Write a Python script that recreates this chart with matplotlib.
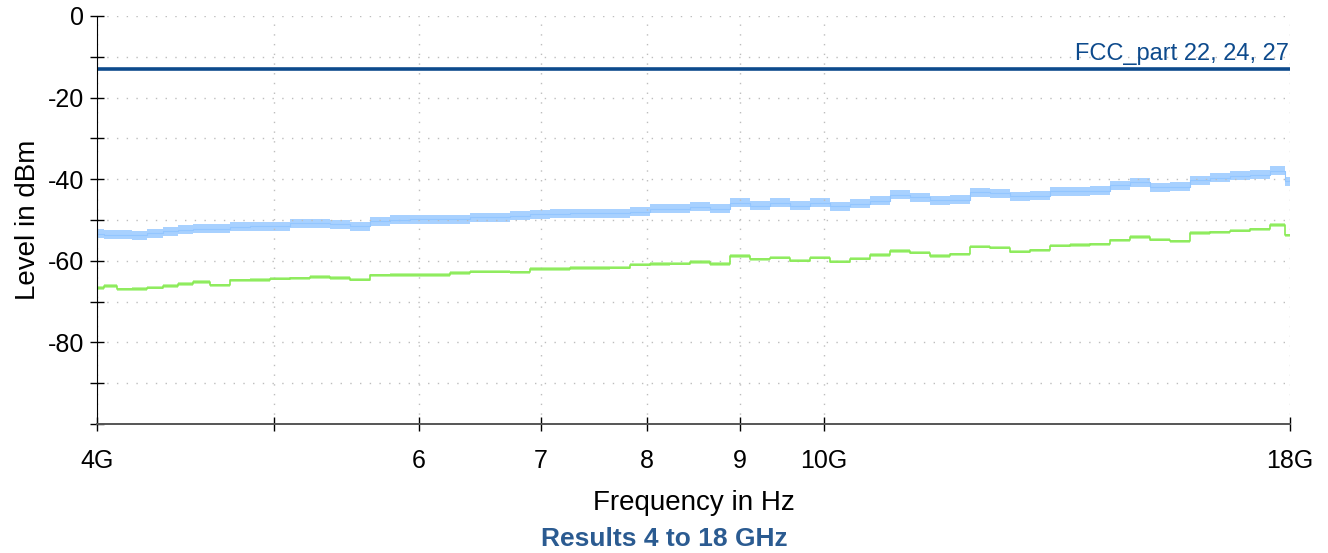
import matplotlib.pyplot as plt
import numpy as np

plt.rcParams['font.family'] = ['Liberation Sans', 'DejaVu Sans']

# sweep frequencies in GHz
freq_ghz = [4.00, 4.07, 4.14, 4.22, 4.30, 4.39, 4.47, 4.56, 4.67, 4.79,
            4.91, 5.04, 5.17, 5.30, 5.43, 5.57, 5.72, 5.86, 6.01, 6.16,
            6.32, 6.48, 6.65, 6.82, 6.99, 7.17, 7.35, 7.54, 7.73, 7.93,
            8.13, 8.34, 8.55, 8.77, 9.00, 9.23, 9.46, 9.70, 9.95, 10.20,
            10.47, 10.73, 11.00, 11.29, 11.58, 11.87, 12.17, 12.49, 12.80, 13.13,
            13.47, 13.81, 14.16, 14.52, 14.89, 15.28, 15.67, 16.06, 16.48, 16.90,
            17.33, 17.77, 18.00]

# peak trace (light blue), dBm
peak_dbm = [-53.4, -53.6, -53.6, -53.8, -53.3, -52.8, -52.4, -52.2, -52.2, -51.6,
            -51.5, -51.5, -50.8, -50.8, -51.0, -51.5, -50.3, -50.0, -49.8, -49.8,
            -49.8, -49.3, -49.3, -49.0, -48.6, -48.5, -48.4, -48.3, -48.4, -48.0,
            -47.3, -47.2, -46.8, -47.3, -45.8, -46.5, -45.8, -46.5, -45.8, -46.6,
            -46.0, -45.3, -43.8, -44.4, -45.2, -45.0, -43.2, -43.4, -44.2, -44.0,
            -43.0, -42.9, -42.8, -41.5, -40.8, -42.0, -41.8, -40.3, -39.6, -39.2,
            -38.9, -37.9, -40.5]

# average trace (green), dBm
avg_dbm = [-66.7, -66.2, -67.0, -66.9, -66.6, -66.2, -65.7, -65.2, -66.0, -64.8,
           -64.7, -64.4, -64.3, -64.0, -64.2, -64.6, -63.6, -63.5, -63.5, -63.5,
           -63.0, -62.7, -62.7, -62.8, -62.0, -62.0, -61.8, -61.8, -61.7, -61.0,
           -60.8, -60.7, -60.3, -60.8, -58.8, -59.6, -59.2, -60.0, -59.2, -60.2,
           -59.5, -58.6, -57.6, -58.0, -58.8, -58.4, -56.5, -56.8, -57.8, -57.4,
           -56.3, -56.1, -56.0, -55.0, -54.2, -54.8, -55.2, -53.2, -53.0, -52.6,
           -52.3, -51.2, -53.8]

# trace spread (dB, peak to peak)
peak_spread = 2.2
avg_spread = 0.8

limit_dbm = -13.0
limit_name = 'FCC_part 22, 24, 27'

xticks = [4, 5, 6, 7, 8, 9, 10, 18]
xticklabels = ['4G', '', '6', '7', '8', '9', '10G', '18G']

f = np.array(freq_ghz)
pk = np.array(peak_dbm)
av = np.array(avg_dbm)

fig = plt.figure(figsize=(13.28, 5.53), dpi=100)
ax = fig.add_axes([0.0730, 0.2333, 0.8984, 0.7378])

ax.fill_between(f, pk - peak_spread / 2, pk + peak_spread / 2, step='mid',
                color='#a8d1ff', lw=0)
ax.step(f, pk, where='mid', color='#93c6ff', lw=0.8)
ax.fill_between(f, av - avg_spread / 2, av + avg_spread / 2, step='mid',
                color='#bdf5a3', lw=0)
ax.step(f, av, where='mid', color='#88ea52', lw=1.2)

ax.axhline(limit_dbm, color='#0d4a8c', lw=2.6)
ax.text(17.98, limit_dbm + 1.0, limit_name, ha='right', va='bottom',
        fontsize=17, color='#0d4a8c')

ax.set_xscale('log')
ax.set_xlim(4, 18)
ax.set_ylim(-100, 0)
ax.set_xticks(xticks)
ax.set_xticklabels(xticklabels)
ax.xaxis.set_minor_locator(plt.NullLocator())
ax.set_yticks(np.arange(-100, 1, 10))
ax.set_yticklabels(['' if v % 20 or v == -100 else str(v) for v in range(-100, 1, 10)])

ax.grid(True, color='#bdbdbd', linestyle=(0, (1, 6)), lw=1.0)
ax.tick_params(axis='both', direction='inout', length=10, width=1.0,
               labelsize=18, colors='black')
ax.tick_params(axis='x', pad=13)
ax.tick_params(axis='y', pad=4)
for s in ['top', 'right']:
    ax.spines[s].set_visible(False)
ax.spines['left'].set_color('black')
ax.spines['bottom'].set_color('#555555')
ax.spines['bottom'].set_linewidth(1.4)

ax.set_xlabel('Frequency in Hz', fontsize=20, labelpad=12)
ax.set_ylabel('Level in dBm', fontsize=20, labelpad=5)
fig.text(0.5, 0.003, 'Results 4 to 18 GHz', ha='center', va='bottom',
         fontsize=19, fontweight='bold', color='#2b5b91')

fig.savefig('out.png', dpi=100)
